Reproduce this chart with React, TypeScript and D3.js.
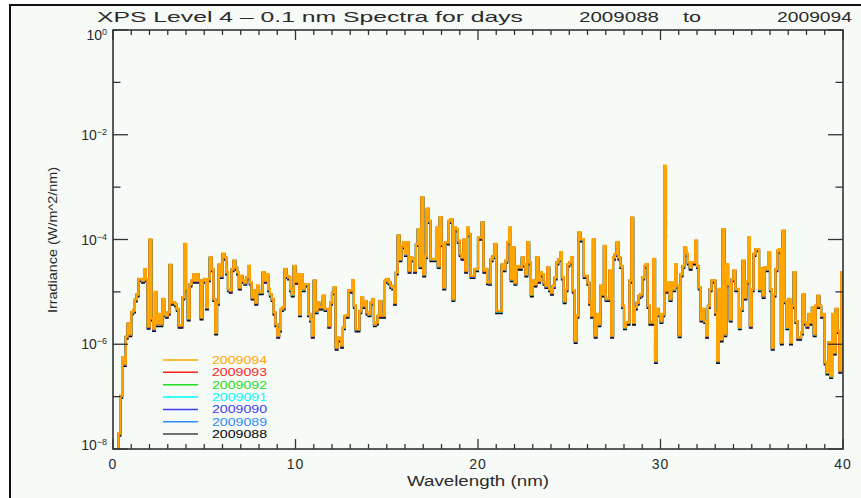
import React from "react";
import * as d3 from "d3";

// log10 of irradiance (W/m^2/nm), 0.1 nm bins, day 2009094
const log10Irr_0to10nm = [
  -8.5, -8.5, -8.3, -7.7, -6.98, -6.25, -6.37, -5.85, -5.6, -5.8,
  -5.38, -5.35, -5.14, -5.04, -4.75, -4.75, -4.78, -4.56, -4.75, -5.66,
  -4.0, -5.5, -5.7, -5.0, -5.61, -5.42, -5.61, -5.13, -5.42, -5.45,
  -5.39, -4.48, -5.2, -5.2, -5.23, -5.32, -5.64, -5.64, -5.1, -4.08,
  -4.94, -5.5, -4.85, -4.78, -4.66, -4.78, -4.66, -4.78, -5.48, -4.78,
  -4.75, -5.29, -4.75, -4.34, -4.56, -5.13, -5.77, -5.2, -4.47, -4.69,
  -4.27, -4.34, -4.62, -4.94, -4.97, -4.56, -4.4, -4.53, -4.62, -4.91,
  -4.69, -4.78, -4.82, -4.72, -4.5, -4.82, -5.1, -4.97, -5.2, -4.88,
  -5.0, -5.0, -4.62, -4.78, -4.66, -4.94, -5.04, -5.13, -5.39, -5.61,
  -5.83, -5.71, -5.32, -5.29, -4.56, -4.69, -4.72, -4.94, -5.04, -4.5,
];
const log10Irr_10to20nm = [
  -4.8, -4.66, -5.42, -4.66, -4.94, -4.85, -4.85, -5.42, -5.52, -5.83,
  -4.78, -5.36, -5.2, -5.29, -5.29, -5.07, -5.32, -5.32, -5.64, -5.2,
  -5.0, -4.91, -6.06, -5.87, -5.9, -6.02, -5.67, -5.45, -5.45, -4.97,
  -4.97, -4.78, -5.26, -5.71, -5.71, -5.36, -5.1, -5.26, -5.17, -5.39,
  -5.42, -5.2, -5.13, -5.61, -5.58, -5.45, -5.17, -5.45, -5.45, -4.78,
  -4.75, -4.81, -4.88, -4.91, -5.2, -4.62, -3.92, -4.37, -4.12, -4.05,
  -4.27, -4.05, -4.59, -4.34, -4.37, -4.59, -4.08, -3.8, -4.5, -3.19,
  -4.66, -4.31, -3.41, -3.64, -4.37, -4.37, -4.37, -3.77, -4.5, -3.57,
  -4.08, -4.91, -4.05, -4.05, -3.64, -3.61, -5.13, -3.77, -3.8, -4.02,
  -4.27, -4.34, -4.0, -4.59, -3.77, -3.89, -4.69, -4.69, -4.56, -4.56,
];
const log10Irr_20to30nm = [
  -3.96, -3.96, -3.67, -4.59, -4.56, -4.81, -4.82, -4.37, -4.31, -4.08,
  -5.36, -5.36, -5.36, -4.47, -4.56, -4.4, -4.05, -3.77, -4.75, -4.15,
  -4.82, -4.5, -4.53, -4.53, -4.34, -4.47, -4.66, -4.05, -4.43, -5.04,
  -4.78, -4.85, -4.34, -4.78, -4.62, -4.66, -4.82, -4.88, -4.53, -4.94,
  -5.01, -4.88, -4.72, -4.43, -4.37, -4.24, -4.72, -5.17, -4.94, -4.47,
  -4.43, -4.34, -4.97, -5.93, -5.45, -3.86, -3.99, -3.99, -4.69, -4.69,
  -4.82, -5.2, -5.45, -3.99, -5.83, -5.42, -5.61, -4.88, -5.04, -4.12,
  -5.13, -5.13, -4.59, -5.83, -4.34, -4.27, -4.05, -4.34, -4.5, -5.26,
  -5.67, -5.58, -5.58, -4.78, -3.58, -5.58, -5.29, -5.2, -5.07, -5.04,
  -4.72, -4.5, -4.47, -5.26, -5.58, -5.58, -4.37, -6.31, -5.32, -5.42,
];
const log10Irr_30to40nm = [
  -5.55, -5.42, -2.59, -4.97, -4.82, -5.13, -4.82, -4.94, -4.47, -4.88,
  -5.82, -4.66, -4.5, -4.15, -4.27, -4.43, -4.53, -4.43, -4.43, -4.02,
  -4.5, -4.91, -5.52, -5.32, -5.55, -5.83, -5.26, -4.94, -4.78, -4.78,
  -5.39, -6.31, -4.94, -5.9, -3.8, -5.8, -4.47, -4.85, -5.52, -4.75,
  -4.59, -4.94, -4.94, -5.67, -5.32, -4.4, -5.1, -4.8, -3.96, -5.64,
  -4.94, -4.27, -4.18, -4.18, -4.94, -4.55, -5.07, -4.53, -4.56, -4.24,
  -4.94, -6.06, -5.04, -4.56, -4.21, -4.18, -5.96, -3.83, -5.17, -5.67,
  -5.13, -5.96, -5.26, -4.62, -5.55, -5.87, -5.87, -5.77, -5.04, -5.58,
  -5.64, -5.42, -5.58, -5.29, -5.8, -5.26, -5.07, -5.26, -5.45, -5.42,
  -6.34, -6.53, -5.96, -6.6, -5.42, -6.15, -5.32, -5.74, -6.5, -4.62,
];

// days, colours and the small (log10) offset of each day relative to 2009094
const days = ["2009094", "2009093", "2009092", "2009091", "2009090", "2009089", "2009088"];
const dayColors = ["#FFA500", "#FF1E1E", "#22DD22", "#00FFFF", "#3C3CF5", "#2E8BFF", "#000000"];
const legendLineColors = ["#FFA500", "#FF1E1E", "#22DD22", "#00FFFF", "#3C3CF5", "#2E8BFF", "#444444"];
const dayOffsetsDex = [0, -0.006, -0.008, -0.012, -0.02, -0.01, -0.045];

const xTickLabels = ["0", "10", "20", "30", "40"];
const yDecades = [0, -1, -2, -3, -4, -5, -6, -7, -8];

const FONT = "'Liberation Sans', Arial, sans-serif";

export default function App() {
  const left = 113, right = 843, top = 30, bottom = 449;
  const x = d3.scaleLinear().domain([0, 40]).range([left, right]);
  const y = d3.scaleLog().domain([1e-8, 1]).range([bottom, top]);
  const logs = [...log10Irr_0to10nm, ...log10Irr_10to20nm, ...log10Irr_20to30nm, ...log10Irr_30to40nm];
  const line = d3
    .line<[number, number]>()
    .x((d) => x(d[0]))
    .y((d) => y(d[1]))
    .curve(d3.curveStep);

  const pathFor = (off: number) => {
    const pts: [number, number][] = logs.map((l, i) => [0.05 + 0.1 * i, Math.pow(10, l + off)]);
    pts.unshift([0, pts[0][1]]);
    pts.push([40, pts[pts.length - 1][1]]);
    return line(pts) || "";
  };

  const xMinor = d3.range(0, 41, 1);
  const axisColor = "#333";
  const textColor = "#2a2a2a";

  return (
    <svg width={861} height={498} style={{ position: "absolute", left: 0, top: 0 }} fontFamily={FONT}>
      <defs>
        <clipPath id="plotclip">
          <rect x={left} y={top} width={right - left} height={bottom - top} />
        </clipPath>
      </defs>
      <rect x={0} y={0} width={861} height={498} fill="#ffffff" />
      <rect x={10} y={5} width={851} height={493} fill="#f7fbf7" />
      <line x1={10} y1={4} x2={10} y2={498} stroke="#111" strokeWidth={2} />
      <line x1={9} y1={5} x2={861} y2={5} stroke="#111" strokeWidth={2} />

      {/* title */}
      <g fontSize={15} fill={textColor}>
        <text x={97} y={22} textLength={426} lengthAdjust="spacingAndGlyphs">
          XPS Level 4 – 0.1 nm Spectra for days
        </text>
        <text x={579} y={22} textLength={80} lengthAdjust="spacingAndGlyphs">
          2009088
        </text>
        <text x={683} y={22} textLength={18} lengthAdjust="spacingAndGlyphs">
          to
        </text>
        <text x={777} y={22} textLength={75} lengthAdjust="spacingAndGlyphs">
          2009094
        </text>
      </g>

      {/* data */}
      <g clipPath="url(#plotclip)">
        {days
          .map((d, i) => i)
          .reverse()
          .map((i) => (
            <path
              key={days[i]}
              d={pathFor(dayOffsetsDex[i])}
              fill="none"
              stroke={dayColors[i]}
              strokeWidth={2.1}
              strokeLinejoin="miter"
            />
          ))}
      </g>

      {/* frame */}
      <rect x={left} y={top} width={right - left} height={bottom - top} fill="none" stroke={axisColor} strokeWidth={1.6} />

      {/* x ticks */}
      {xMinor.map((t) => {
        const len = t % 10 === 0 ? 10 : 5;
        return (
          <g key={"xt" + t} stroke={axisColor} strokeWidth={1.3}>
            <line x1={x(t)} x2={x(t)} y1={bottom} y2={bottom - len} />
            <line x1={x(t)} x2={x(t)} y1={top} y2={top + len} />
          </g>
        );
      })}
      {xTickLabels.map((s) => (
        <text key={"xl" + s} x={x(+s)} y={469} fontSize={14} textAnchor="middle" fill={textColor} letterSpacing={1}>
          {s}
        </text>
      ))}
      <text x={478} y={486} fontSize={14} textAnchor="middle" fill={textColor} textLength={142} lengthAdjust="spacingAndGlyphs">
        Wavelength (nm)
      </text>

      {/* y ticks */}
      {yDecades.map((k) => {
        const len = k % 2 === 0 ? 15 : 7.5;
        const yy = y(Math.pow(10, k));
        return (
          <g key={"yt" + k} stroke={axisColor} strokeWidth={1.3}>
            <line x1={left} x2={left + len} y1={yy} y2={yy} />
            <line x1={right} x2={right - len} y1={yy} y2={yy} />
          </g>
        );
      })}
      {yDecades
        .filter((k) => k % 2 === 0)
        .map((k) => {
          const yy = y(Math.pow(10, k));
          // labels at the ends of the axis are nudged inside it, as in the reference
          const shift = k === 0 ? 4.5 : k === -8 ? -4.5 : 0;
          return (
            <text key={"yl" + k} x={107} y={yy + shift + 5} fontSize={14} textAnchor="end" fill={textColor}>
              <tspan>10</tspan>
              <tspan fontSize={9} dy={-5}>
                {k === 0 ? "0" : "−" + Math.abs(k)}
              </tspan>
            </text>
          );
        })}
      <text
        transform="translate(57,240) rotate(-90)"
        fontSize={13}
        textAnchor="middle"
        fill={textColor}
        textLength={146}
        lengthAdjust="spacingAndGlyphs"
      >
        Irradiance (W/m^2/nm)
      </text>

      {/* legend */}
      {days.map((d, i) => {
        const ly = 360 + i * 12.35;
        return (
          <g key={"lg" + d}>
            <line x1={163} x2={198} y1={ly} y2={ly} stroke={legendLineColors[i]} strokeWidth={1.5} />
            <text x={212} y={ly + 4} fontSize={11} fill={dayColors[i]} textLength={55} lengthAdjust="spacingAndGlyphs">
              {d}
            </text>
          </g>
        );
      })}
    </svg>
  );
}
